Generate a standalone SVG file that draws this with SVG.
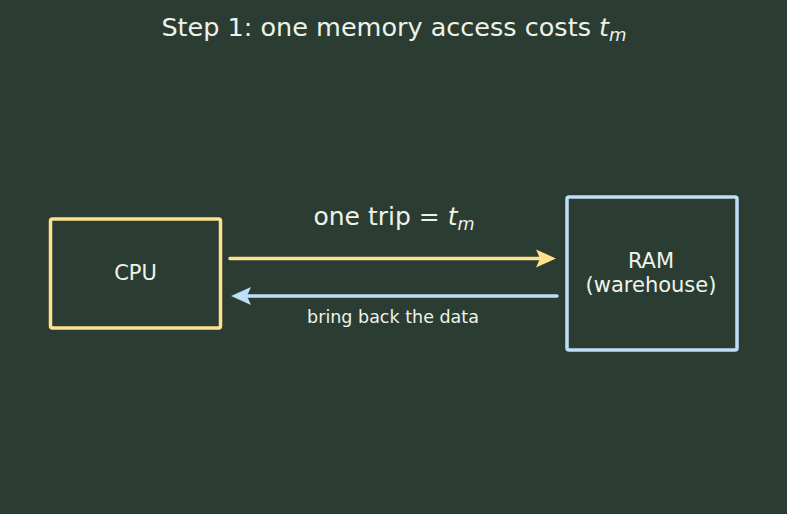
<svg xmlns="http://www.w3.org/2000/svg" width="787" height="514" viewBox="0 0 787 514">
<defs>
<style>
text{font-family:"DejaVu Sans",sans-serif;fill:#eef3ea}
.box{fill:#2b3c33;stroke-width:3.5}
</style>
</defs>
<rect width="787" height="514" fill="#2b3c33"/>
<text x="394" y="36" font-size="25.5" text-anchor="middle">Step 1: one memory access costs <tspan font-style="italic">t</tspan><tspan font-style="italic" font-size="18" dy="5">m</tspan></text>
<g id="cpu"><rect class="box" x="50.5" y="219" width="170" height="109" rx="2" stroke="#ffe08f"/><text x="135.5" y="280" font-size="21" text-anchor="middle">CPU</text></g>
<g id="ram"><rect class="box" x="567" y="197" width="170" height="153" rx="2" stroke="#bfdef8"/><text x="651" y="268" font-size="21" text-anchor="middle">RAM</text><text x="651" y="292" font-size="21" text-anchor="middle">(warehouse)</text></g>
<g id="connectors">
<line x1="230" y1="258.5" x2="545" y2="258.5" stroke="#ffe08f" stroke-width="3.5" stroke-linecap="round"/>
<path d="M556,258.5 L536,249.5 L540,258.5 L536,267.5 Z" fill="#ffe08f"/>
<line x1="557" y1="296" x2="242" y2="296" stroke="#bfdef8" stroke-width="3.5" stroke-linecap="round"/>
<path d="M231,296 L251,287 L247,296 L251,305 Z" fill="#bfdef8"/>
<text x="394" y="225" font-size="25" text-anchor="middle">one trip = <tspan font-style="italic">t</tspan><tspan font-style="italic" font-size="17.5" dy="5">m</tspan></text>
<text x="393" y="323" font-size="17.5" text-anchor="middle">bring back the data</text>
</g>
</svg>
